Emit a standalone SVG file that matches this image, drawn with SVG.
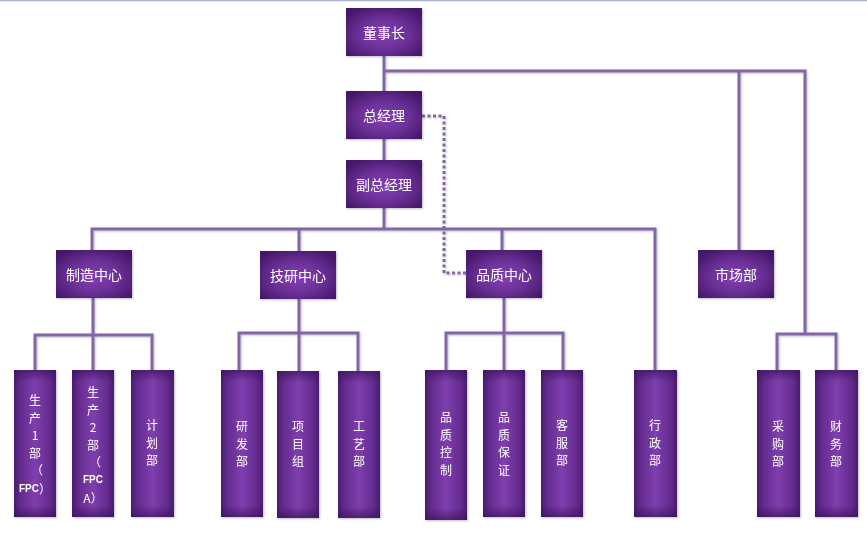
<svg xmlns="http://www.w3.org/2000/svg" width="867" height="557" viewBox="0 0 867 557">
<defs>
<radialGradient id="g" cx="0.5" cy="0.55" r="0.62">
<stop offset="0" stop-color="#8441b3"/>
<stop offset="0.55" stop-color="#6a2f96"/>
<stop offset="1" stop-color="#46196a"/>
</radialGradient>
<linearGradient id="gv" x1="0" y1="0" x2="1" y2="0">
<stop offset="0" stop-color="#4a1c6e"/>
<stop offset="0.15" stop-color="#632b8e"/>
<stop offset="0.5" stop-color="#7f3fae"/>
<stop offset="0.85" stop-color="#632b8e"/>
<stop offset="1" stop-color="#4a1c6e"/>
</linearGradient>
<linearGradient id="gvv" x1="0" y1="0" x2="0" y2="1">
<stop offset="0" stop-color="#3c145c" stop-opacity="0.7"/>
<stop offset="0.08" stop-color="#3c145c" stop-opacity="0"/>
<stop offset="0.92" stop-color="#3c145c" stop-opacity="0"/>
<stop offset="1" stop-color="#3c145c" stop-opacity="0.7"/>
</linearGradient>
<filter id="sh" x="-5%" y="-5%" width="110%" height="110%">
<feDropShadow dx="1" dy="1" stdDeviation="1" flood-color="#000" flood-opacity="0.25"/>
</filter>
</defs>
<style>
.ln{fill:none;stroke:#8366a6;stroke-width:3;stroke-linejoin:miter}
.ds{fill:none;stroke:#8366a6;stroke-width:3;stroke-dasharray:3 2.5}
.box{fill:url(#g)}
.tb{fill:url(#gv)}
.tbo{fill:url(#gvv)}
.t{font-family:"Noto Sans CJK SC","Noto Sans",sans-serif;font-size:14px;fill:#ffffff;text-anchor:middle;dominant-baseline:central}
.v{font-family:"Noto Sans CJK SC","Noto Sans",sans-serif;font-size:12px;fill:#ffffff;text-anchor:middle;dominant-baseline:central}
.s{font-family:"Liberation Sans",Arial,sans-serif;font-size:10px;font-weight:bold}
</style>
<rect x="0" y="0" width="867" height="557" fill="#ffffff"/>
<line x1="0" y1="0.5" x2="867" y2="0.5" stroke="#aab4c8" stroke-width="1.5"/>
<g id="connectors" filter="url(#sh)">
<path class="ln" d="M384 56 V229"/>
<path class="ln" d="M92 250 V229 H655 V370"/>
<path class="ln" d="M299 229 V251"/>
<path class="ln" d="M502 229 V250"/>
<path class="ln" d="M384 71 H805 V334"/>
<path class="ln" d="M739 71 V250"/>
<path class="ln" d="M777 370 V334 H836 V370"/>
<path class="ln" d="M93 298 V370"/>
<path class="ln" d="M35 370 V335 H152 V370"/>
<path class="ln" d="M299 299 V371"/>
<path class="ln" d="M239 370 V333 H358 V371"/>
<path class="ln" d="M504 298 V370"/>
<path class="ln" d="M446 370 V333 H563 V370"/>
<path class="ds" d="M422 116 H444 V273 H466"/>
</g>
<g id="n-chairman" filter="url(#sh)"><rect class="box" x="346" y="8" width="76" height="48"/><text class="t" x="384" y="32">董事长</text></g>
<g id="n-gm" filter="url(#sh)"><rect class="box" x="346" y="91" width="76" height="48"/><text class="t" x="384" y="115">总经理</text></g>
<g id="n-dgm" filter="url(#sh)"><rect class="box" x="346" y="160" width="76" height="48"/><text class="t" x="384" y="184">副总经理</text></g>
<g id="n-mfg" filter="url(#sh)"><rect class="box" x="56" y="250" width="76" height="48"/><text class="t" x="94" y="274">制造中心</text></g>
<g id="n-tech" filter="url(#sh)"><rect class="box" x="260" y="251" width="76" height="48"/><text class="t" x="298" y="275">技研中心</text></g>
<g id="n-qc" filter="url(#sh)"><rect class="box" x="466" y="250" width="76" height="48"/><text class="t" x="504" y="274">品质中心</text></g>
<g id="n-mkt" filter="url(#sh)"><rect class="box" x="698" y="250" width="76" height="48"/><text class="t" x="736" y="274">市场部</text></g>

<g id="n-p1" filter="url(#sh)"><rect class="tb" x="14" y="370" width="42" height="147"/><rect class="tbo" x="14" y="370" width="42" height="147"/>
<text class="v" x="35" y="399"><tspan x="35">生</tspan><tspan x="35" dy="17.5">产</tspan><tspan x="35" dy="17.5">1</tspan><tspan x="35" dy="17.5">部</tspan><tspan x="37" dy="17.5">（</tspan><tspan x="35" dy="18.5"><tspan class="s">FPC</tspan>）</tspan></text></g>
<g id="n-p2" filter="url(#sh)"><rect class="tb" x="72" y="370" width="42" height="147"/><rect class="tbo" x="72" y="370" width="42" height="147"/>
<text class="v" x="93" y="391"><tspan x="93">生</tspan><tspan x="93" dy="17.5">产</tspan><tspan x="93" dy="17.5">2</tspan><tspan x="93" dy="17.5">部</tspan><tspan x="95" dy="17.5">（</tspan><tspan x="93" dy="18" class="s">FPC</tspan><tspan x="93" dy="18">A）</tspan></text></g>
<g id="n-plan" filter="url(#sh)"><rect class="tb" x="131" y="370" width="43" height="147"/><rect class="tbo" x="131" y="370" width="43" height="147"/>
<text class="v" x="152" y="424"><tspan x="152">计</tspan><tspan x="152" dy="17.5">划</tspan><tspan x="152" dy="17.5">部</tspan></text></g>

<g id="n-rd" filter="url(#sh)"><rect class="tb" x="221" y="370" width="42" height="147"/><rect class="tbo" x="221" y="370" width="42" height="147"/>
<text class="v" x="242" y="425"><tspan x="242">研</tspan><tspan x="242" dy="17.5">发</tspan><tspan x="242" dy="17.5">部</tspan></text></g>
<g id="n-proj" filter="url(#sh)"><rect class="tb" x="277" y="371" width="42" height="147"/><rect class="tbo" x="277" y="371" width="42" height="147"/>
<text class="v" x="298" y="425"><tspan x="298">项</tspan><tspan x="298" dy="17.5">目</tspan><tspan x="298" dy="17.5">组</tspan></text></g>
<g id="n-proc" filter="url(#sh)"><rect class="tb" x="338" y="371" width="42" height="147"/><rect class="tbo" x="338" y="371" width="42" height="147"/>
<text class="v" x="359" y="425"><tspan x="359">工</tspan><tspan x="359" dy="17.5">艺</tspan><tspan x="359" dy="17.5">部</tspan></text></g>

<g id="n-qctrl" filter="url(#sh)"><rect class="tb" x="425" y="370" width="42" height="150"/><rect class="tbo" x="425" y="370" width="42" height="150"/>
<text class="v" x="446" y="416"><tspan x="446">品</tspan><tspan x="446" dy="17.5">质</tspan><tspan x="446" dy="17.5">控</tspan><tspan x="446" dy="17.5">制</tspan></text></g>
<g id="n-qa" filter="url(#sh)"><rect class="tb" x="483" y="370" width="42" height="147"/><rect class="tbo" x="483" y="370" width="42" height="147"/>
<text class="v" x="504" y="416"><tspan x="504">品</tspan><tspan x="504" dy="17.5">质</tspan><tspan x="504" dy="17.5">保</tspan><tspan x="504" dy="17.5">证</tspan></text></g>
<g id="n-cs" filter="url(#sh)"><rect class="tb" x="541" y="370" width="42" height="147"/><rect class="tbo" x="541" y="370" width="42" height="147"/>
<text class="v" x="562" y="424"><tspan x="562">客</tspan><tspan x="562" dy="17.5">服</tspan><tspan x="562" dy="17.5">部</tspan></text></g>
<g id="n-admin" filter="url(#sh)"><rect class="tb" x="634" y="370" width="43" height="147"/><rect class="tbo" x="634" y="370" width="43" height="147"/>
<text class="v" x="655" y="424"><tspan x="655">行</tspan><tspan x="655" dy="17.5">政</tspan><tspan x="655" dy="17.5">部</tspan></text></g>

<g id="n-purch" filter="url(#sh)"><rect class="tb" x="757" y="370" width="43" height="147"/><rect class="tbo" x="757" y="370" width="43" height="147"/>
<text class="v" x="778" y="425"><tspan x="778">采</tspan><tspan x="778" dy="17.5">购</tspan><tspan x="778" dy="17.5">部</tspan></text></g>
<g id="n-fin" filter="url(#sh)"><rect class="tb" x="815" y="370" width="43" height="147"/><rect class="tbo" x="815" y="370" width="43" height="147"/>
<text class="v" x="836" y="425"><tspan x="836">财</tspan><tspan x="836" dy="17.5">务</tspan><tspan x="836" dy="17.5">部</tspan></text></g>
</svg>
